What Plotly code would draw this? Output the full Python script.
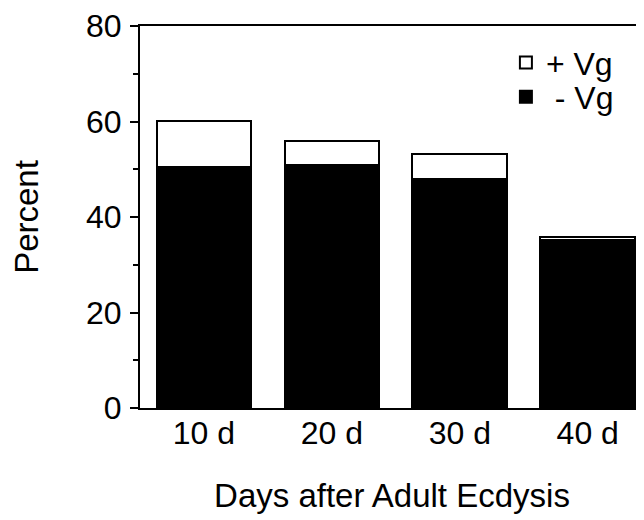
import plotly.graph_objects as go

categories = ["10 d", "20 d", "30 d", "40 d"]
minus_vg = [50.5, 50.9, 48.0, 35.1]   # black part (- Vg)
plus_vg = [9.7, 5.0, 5.2, 0.7]        # white part stacked on top (+ Vg)
y_ticks = [0, 20, 40, 60, 80]

FONT = "Liberation Sans, Arial, Helvetica, sans-serif"

fig = go.Figure()
fig.add_trace(go.Bar(
    x=categories, y=minus_vg, name="\u00a0- Vg", legend="legend2", showlegend=True,
    marker=dict(color="black", line=dict(color="black", width=2)),
))
fig.add_trace(go.Bar(
    x=categories, y=plus_vg, name="+ Vg", legend="legend", showlegend=True,
    marker=dict(color="white", line=dict(color="black", width=2)),
))

legend_common = dict(xanchor="left", yanchor="top", font=dict(size=32),
                     bgcolor="rgba(0,0,0,0)")

fig.update_layout(
    width=636, height=512, showlegend=True,
    barmode="stack", bargap=0.26,
    plot_bgcolor="white", paper_bgcolor="white",
    margin=dict(l=132, r=0, t=16, b=112),
    font=dict(family=FONT, size=32, color="black"),
    legend=dict(x=0.726, y=0.976, visible=True, **legend_common),
    legend2=dict(x=0.726, y=0.886, visible=True, **legend_common),
    xaxis=dict(
        range=[-0.5, 3.44], showline=True, linecolor="black", linewidth=2,
        mirror=True, ticks="", showgrid=False, zeroline=False,
        tickfont=dict(size=32), ticklabelstandoff=-4,
        title=dict(text="Days after Adult Ecdysis", font=dict(size=33), standoff=33),
    ),
    yaxis=dict(
        range=[0, 80], tickvals=y_ticks, showline=True, linecolor="black", linewidth=2,
        ticks="outside", ticklen=8, tickwidth=2, tickcolor="black",
        minor=dict(dtick=10, ticks="outside", ticklen=5, tickwidth=2, tickcolor="black"),
        showgrid=False, zeroline=False, tickfont=dict(size=32), ticklabelstandoff=2,
        ticklabeloverflow="allow",
        title=dict(text="Percent", font=dict(size=33), standoff=38),
    ),
)

fig.write_html("out.html")
